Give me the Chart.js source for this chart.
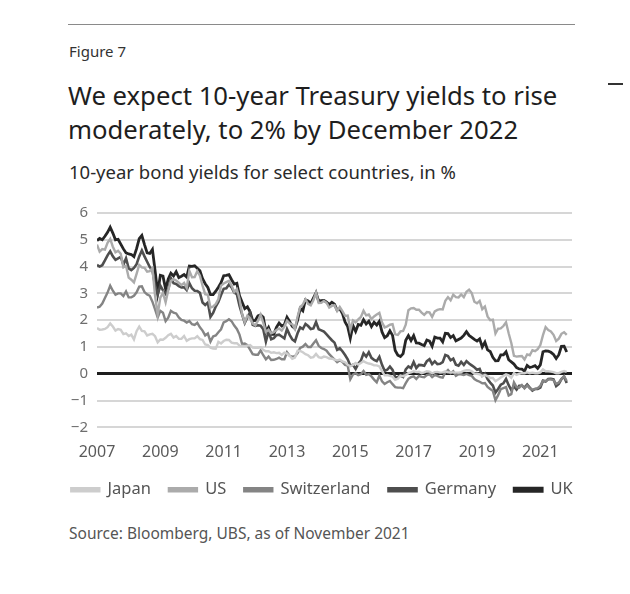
<!DOCTYPE html>
<html>
<head>
<meta charset="utf-8">
<script src="https://cdn.jsdelivr.net/npm/chart.js@4"></script>
<style>
  html, body { margin: 0; padding: 0; background: #fff; }
  body { width: 630px; height: 594px; position: relative; overflow: hidden; font-family: "Noto Sans", sans-serif; }
  .rule { position: absolute; left: 68px; top: 24px; width: 507px; height: 1px; background: #8a8a8a; }
  .fig { position: absolute; left: 69px; top: 41px; font-size: 15px; color: #333; }
  .title { position: absolute; left: 68px; top: 79px; font-size: 25.7px; line-height: 34px; color: #1e1e1e; }
  .sub { position: absolute; left: 69px; top: 159px; font-size: 18.5px; color: #2a2a2a; }
  .src { position: absolute; left: 69px; top: 522px; font-size: 15.5px; color: #555; }
  .dash { position: absolute; left: 608px; top: 83px; width: 15px; height: 2px; background: #333; }
  #wrap { position: absolute; left: 0; top: 195px; width: 630px; height: 321px; }
</style>
</head>
<body>
<div class="rule"></div>
<div class="fig">Figure 7</div>
<div class="title">We expect 10-year Treasury yields to rise<br>moderately, to 2% by December 2022</div>
<div class="sub">10-year bond yields for select countries, in %</div>
<div class="dash"></div>
<div id="wrap"><canvas id="c" width="630" height="321"></canvas></div>
<div class="src">Source: Bloomberg, UBS, as of November 2021</div>
<script>
// Monthly 10-year government bond yields (%), Jan 2007 - Nov 2021
const startYear = 2007;
const seriesNames = ["Japan", "US", "Switzerland", "Germany", "UK"];
const yearTicks = [2007, 2009, 2011, 2013, 2015, 2017, 2019, 2021];
const yTicks = [-2, -1, 0, 1, 2, 3, 4, 5, 6];

const japan = [
  1.71,1.64,1.65,1.67,1.74,1.88,1.76,1.61,1.67,1.64,1.48,1.51,
  1.41,1.46,1.28,1.59,1.76,1.60,1.58,1.43,1.47,1.49,1.40,1.17,
  1.28,1.27,1.34,1.44,1.49,1.35,1.41,1.30,1.30,1.41,1.23,1.29,
  1.32,1.32,1.40,1.29,1.26,1.09,1.07,0.97,0.94,0.93,1.19,1.13,
  1.22,1.27,1.26,1.16,1.14,1.14,1.05,1.04,1.03,1.05,1.07,0.98,
  0.97,0.97,0.99,0.89,0.84,0.84,0.78,0.80,0.77,0.78,0.70,0.79,
  0.75,0.67,0.56,0.60,0.86,0.85,0.80,0.73,0.69,0.60,0.62,0.74,
  0.62,0.59,0.64,0.62,0.57,0.56,0.53,0.50,0.53,0.46,0.43,0.33,
  0.28,0.33,0.40,0.34,0.40,0.47,0.41,0.38,0.36,0.31,0.31,0.27,
  0.10,-0.06,-0.05,-0.08,-0.11,-0.23,-0.19,-0.07,-0.09,-0.05,0.02,0.05,
  0.09,0.06,0.07,0.02,0.05,0.09,0.08,0.01,0.06,0.07,0.04,0.05,
  0.09,0.05,0.05,0.05,0.04,0.04,0.06,0.11,0.13,0.13,0.09,0.00,
  0.00,-0.02,-0.09,-0.05,-0.09,-0.16,-0.16,-0.28,-0.22,-0.14,-0.08,-0.02,
  -0.06,-0.15,0.02,-0.04,0.00,0.02,0.02,0.05,0.02,0.04,0.02,0.02,
  0.05,0.16,0.09,0.09,0.08,0.06,0.02,0.02,0.07,0.10,0.07
];
const us = [
  4.82,4.56,4.65,4.63,4.89,5.03,4.74,4.53,4.59,4.48,3.97,4.03,
  3.59,3.51,3.41,3.73,4.06,3.97,3.95,3.81,3.83,3.94,2.92,2.21,
  2.84,3.02,2.67,3.12,3.46,3.53,3.48,3.40,3.31,3.39,3.20,3.84,
  3.60,3.61,3.83,3.66,3.29,2.97,2.94,2.47,2.51,2.60,2.79,3.29,
  3.37,3.42,3.47,3.29,3.05,3.16,2.80,2.22,1.92,2.17,2.07,1.88,
  1.80,1.98,2.21,1.91,1.56,1.64,1.51,1.55,1.63,1.69,1.61,1.76,
  1.98,1.88,1.85,1.67,2.13,2.49,2.58,2.78,2.61,2.55,2.74,3.03,
  2.64,2.65,2.72,2.65,2.47,2.53,2.56,2.34,2.49,2.34,2.16,2.17,
  1.64,1.99,1.92,2.03,2.12,2.35,2.18,2.21,2.04,2.14,2.21,2.27,
  1.92,1.73,1.77,1.83,1.85,1.47,1.45,1.58,1.60,1.83,2.37,2.44,
  2.45,2.39,2.39,2.28,2.20,2.30,2.29,2.12,2.33,2.38,2.41,2.40,
  2.72,2.86,2.74,2.95,2.86,2.85,2.96,2.86,3.06,3.14,3.01,2.69,
  2.63,2.72,2.41,2.51,2.14,2.00,2.02,1.50,1.68,1.69,1.78,1.92,
  1.51,1.15,0.67,0.64,0.65,0.66,0.53,0.72,0.69,0.88,0.84,0.92,
  1.07,1.44,1.74,1.63,1.58,1.45,1.22,1.31,1.49,1.55,1.45
];
const switzerland = [
  2.47,2.50,2.62,2.83,3.03,3.29,3.10,2.95,3.00,3.00,2.90,3.07,
  2.85,2.85,2.91,3.04,3.25,3.26,3.05,2.96,2.91,2.69,2.40,2.10,
  2.35,2.28,1.96,2.09,2.35,2.28,2.25,2.10,2.01,1.98,1.91,1.97,
  1.85,1.82,1.90,1.73,1.61,1.43,1.50,1.20,1.39,1.43,1.55,1.66,
  1.92,1.96,2.03,1.96,1.80,1.67,1.46,1.11,1.13,1.07,0.90,0.73,
  0.71,0.71,0.87,0.69,0.54,0.64,0.51,0.52,0.55,0.60,0.54,0.54,
  0.80,0.67,0.64,0.65,0.77,0.96,1.01,1.11,1.00,1.00,1.13,1.25,
  1.04,0.96,0.92,0.86,0.73,0.63,0.53,0.43,0.50,0.44,0.33,0.30,
  -0.21,-0.03,0.02,-0.05,-0.02,0.10,-0.04,-0.01,-0.10,-0.22,-0.32,-0.07,
  -0.28,-0.38,-0.32,-0.27,-0.39,-0.50,-0.52,-0.52,-0.54,-0.35,-0.19,-0.13,
  -0.10,-0.20,-0.08,-0.12,-0.13,-0.05,-0.02,-0.13,-0.05,-0.08,-0.13,-0.15,
  0.05,0.14,0.02,0.09,-0.08,-0.02,-0.02,-0.05,-0.01,-0.05,-0.08,-0.20,
  -0.26,-0.30,-0.36,-0.35,-0.49,-0.57,-0.64,-0.99,-0.80,-0.58,-0.54,-0.50,
  -0.81,-0.76,-0.32,-0.50,-0.52,-0.42,-0.55,-0.44,-0.54,-0.60,-0.57,-0.54,
  -0.45,-0.26,-0.28,-0.21,-0.21,-0.24,-0.38,-0.33,-0.20,-0.09,-0.27
];
const germany = [
  4.06,4.00,4.05,4.23,4.42,4.57,4.38,4.25,4.31,4.36,4.07,4.31,
  3.93,3.87,3.95,4.09,4.38,4.60,4.38,4.18,3.98,3.86,3.30,2.95,
  3.29,3.11,2.98,3.16,3.57,3.38,3.35,3.27,3.22,3.23,3.12,3.38,
  3.19,3.10,3.09,3.02,2.66,2.57,2.66,2.12,2.27,2.51,2.68,2.94,
  3.17,3.19,3.33,3.22,3.03,2.97,2.54,2.21,1.90,2.11,2.28,1.83,
  1.79,1.81,1.79,1.66,1.20,1.58,1.29,1.33,1.44,1.46,1.39,1.32,
  1.67,1.45,1.28,1.21,1.51,1.73,1.67,1.86,1.78,1.67,1.69,1.93,
  1.66,1.62,1.57,1.47,1.36,1.25,1.16,0.89,0.95,0.84,0.70,0.54,
  0.30,0.33,0.18,0.37,0.49,0.76,0.64,0.80,0.59,0.52,0.47,0.63,
  0.33,0.11,0.15,0.27,0.14,-0.13,-0.12,-0.07,-0.12,0.16,0.27,0.21,
  0.44,0.21,0.33,0.32,0.30,0.47,0.54,0.36,0.46,0.36,0.37,0.43,
  0.70,0.66,0.50,0.56,0.34,0.30,0.44,0.33,0.47,0.38,0.31,0.24,
  0.15,0.18,-0.07,0.01,-0.20,-0.33,-0.44,-0.70,-0.57,-0.41,-0.36,-0.19,
  -0.43,-0.61,-0.47,-0.59,-0.45,-0.45,-0.52,-0.40,-0.52,-0.63,-0.57,-0.57,
  -0.52,-0.26,-0.29,-0.20,-0.19,-0.21,-0.46,-0.38,-0.20,-0.11,-0.35
];
const uk = [
  4.97,5.05,5.00,5.13,5.28,5.47,5.25,5.00,5.02,4.84,4.66,4.51,
  4.47,4.45,4.37,4.67,5.04,5.16,4.82,4.51,4.49,4.64,3.86,3.02,
  3.67,3.64,3.16,3.54,3.75,3.65,3.81,3.59,3.64,3.70,3.61,4.02,
  4.01,4.03,3.94,3.84,3.55,3.36,3.22,2.95,2.95,3.08,3.23,3.40,
  3.66,3.67,3.70,3.51,3.35,3.38,2.91,2.67,2.43,2.50,2.31,1.98,
  1.99,2.16,2.20,2.11,1.57,1.73,1.47,1.47,1.73,1.89,1.78,1.83,
  2.11,1.95,1.77,1.69,1.99,2.44,2.35,2.76,2.72,2.63,2.82,3.02,
  2.71,2.73,2.74,2.67,2.58,2.67,2.60,2.37,2.43,2.25,1.93,1.76,
  1.33,1.80,1.58,1.84,1.81,2.02,1.86,1.96,1.76,1.92,1.82,1.96,
  1.56,1.35,1.42,1.60,1.43,0.87,0.69,0.64,0.75,1.25,1.42,1.24,
  1.42,1.15,1.14,1.09,1.05,1.26,1.22,1.03,1.37,1.33,1.33,1.19,
  1.51,1.50,1.35,1.42,1.23,1.28,1.33,1.43,1.57,1.43,1.36,1.28,
  1.22,1.30,1.00,1.18,0.89,0.83,0.61,0.48,0.49,0.70,0.70,0.82,
  0.52,0.44,0.36,0.23,0.18,0.17,0.10,0.31,0.23,0.26,0.30,0.20,
  0.33,0.82,0.85,0.84,0.80,0.72,0.57,0.71,1.02,1.03,0.81
];

const seriesValues = [japan, us, switzerland, germany, uk];
const seriesColors = ["#cdcdcd", "#ababab", "#848484", "#4e4e4e", "#262626"];
const seriesWidths = [2.4, 2.4, 2.4, 2.6, 2.8];

const datasets = seriesValues.map((vals, k) => ({
  label: seriesNames[k],
  data: vals.map((v, i) => ({ x: startYear + i / 12, y: v })),
  borderColor: seriesColors[k],
  backgroundColor: seriesColors[k],
  borderWidth: seriesWidths[k],
  pointRadius: 0,
  tension: 0,
  fill: false
}));

new Chart(document.getElementById("c"), {
  type: "line",
  data: { datasets },
  options: {
    responsive: false,
    devicePixelRatio: 1,
    animation: false,
    layout: { padding: { left: 14, right: 0, top: 15, bottom: 8 } },
    plugins: {
      legend: {
        position: "bottom",
        labels: {
          boxWidth: 28, boxHeight: 3,
          color: "#555",
          font: { family: "Noto Sans", size: 16.5 },
          padding: 18
        }
      },
      tooltip: { enabled: false }
    },
    scales: {
      x: {
        type: "linear",
        min: 2007, max: 2022,
        afterBuildTicks: s => { s.ticks = yearTicks.map(v => ({ value: v })); },
        afterFit: s => { s.height -= 7; },
        ticks: {
          color: "#5a5a5a", font: { family: "Noto Sans", size: 16 }, padding: 8,
          maxRotation: 0, autoSkip: false,
          callback: v => String(v)
        },
        grid: { display: false },
        border: { display: false }
      },
      y: {
        min: -2, max: 6,
        afterBuildTicks: s => { s.ticks = yTicks.map(v => ({ value: v })); },
        afterFit: s => { s.width = 83; },
        ticks: {
          color: "#6e6e6e", font: { family: "Noto Sans", size: 15 }, padding: 9,
          callback: v => (v < 0 ? "\u2212" + Math.abs(v) : String(v))
        },
        grid: {
          drawTicks: false,
          color: c => (c.tick && c.tick.value === 0 ? "#1e1e1e" : "#d6d6d6"),
          lineWidth: c => (c.tick && c.tick.value === 0 ? 3 : 2)
        },
        border: { display: false }
      },
      yRight: {
        position: "right",
        min: -2, max: 6,
        afterFit: s => { s.width = 58; },
        ticks: { display: false },
        grid: { display: false },
        border: { display: false }
      }
    }
  }
});
</script>
</body>
</html>
